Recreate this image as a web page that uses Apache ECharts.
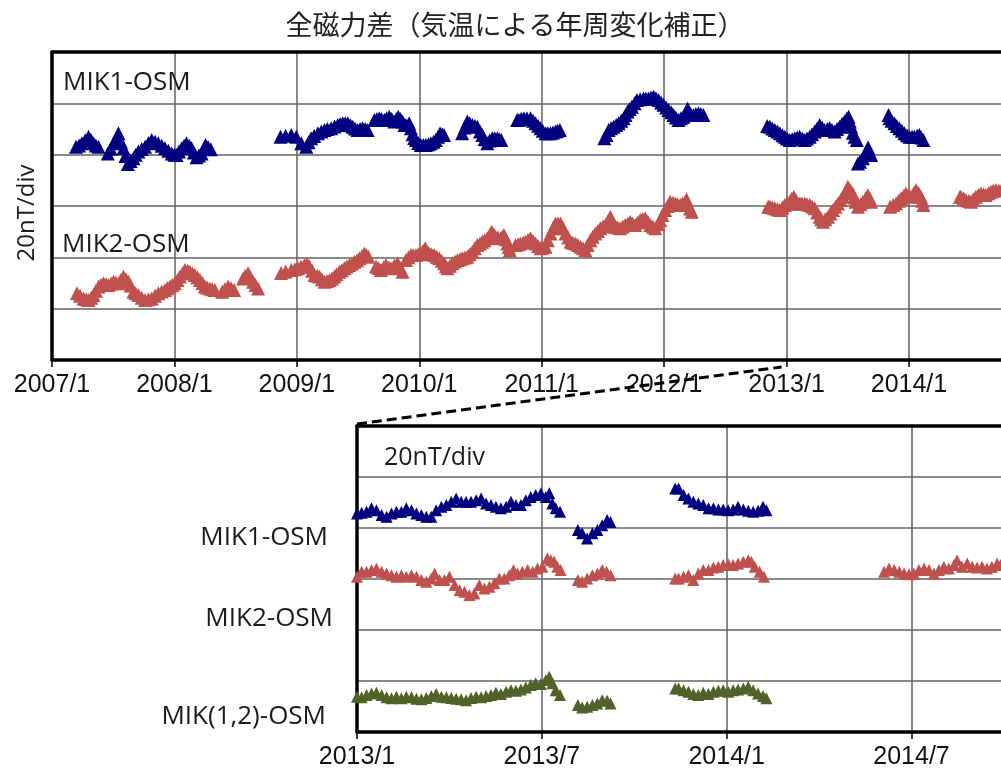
<!DOCTYPE html>
<html>
<head>
<meta charset="utf-8">
<script src="https://cdn.jsdelivr.net/npm/echarts@6/dist/echarts.min.js"></script>
<style>
html,body{margin:0;padding:0;background:#fff;overflow:hidden;}
#chart{width:1014px;height:774px;}
</style>
</head>
<body>
<div id="chart"></div>
<script>
// ---- tick labels ----
const topTicks = ['2007/1','2008/1','2009/1','2010/1','2011/1','2012/1','2013/1','2014/1'];
const bottomTicks = ['2013/1','2013/7','2014/1','2014/7'];

// ---- top panel (x = months since 2007/1, y = nT, 20 nT/div) ----
const mik1Top = [
[2.35,83.1],[2.65,83.6],[2.93,84.4],[3.25,85.6],[3.58,87.0],[3.82,85.8],[4.07,84.4],[4.3,83.6],[4.56,83.1],
[5.47,80.5],[5.75,82.3],[6.03,84.4],[6.3,86.5],[6.51,88.3],[6.75,85.0],[7.0,82.5],[7.2,79.5],[7.43,76.4],[7.7,77.5],[7.98,78.6],[8.2,80.0],[8.47,81.2],[8.8,82.2],[9.12,83.1],[9.45,84.5],[9.77,85.7],[10.1,85.0],[10.42,84.4],[10.75,83.5],[11.07,82.5],[11.4,81.5],[11.73,80.5],[12.0,80.0],[12.21,79.9],[12.45,81.2],[12.7,82.5],[12.95,83.5],[13.19,84.4],[13.45,83.5],[13.68,82.5],[13.9,80.8],[14.17,79.0],[14.4,79.7],[14.66,80.5],[14.85,82.2],[15.05,83.8],[15.3,83.0],[15.57,82.1],
[22.4,87.0],[22.9,87.4],[23.45,87.7],[23.94,87.0],[24.43,84.4],[24.92,83.1],[25.15,84.8],[25.4,86.4],[25.7,87.3],[26.06,88.3],[26.4,89.0],[26.71,89.6],[27.0,90.0],[27.36,90.3],[27.7,91.0],[28.01,91.6],[28.25,91.9],[28.5,92.2],[28.75,92.2],[28.99,92.2],[29.25,91.5],[29.48,90.9],[29.7,90.2],[29.96,89.6],[30.2,90.0],[30.45,90.3],[30.7,90.0],[30.94,89.6],
[31.59,93.5],[31.85,93.9],[32.08,94.2],[32.3,93.9],[32.57,93.5],[32.8,94.2],[33.06,94.8],[33.3,93.9],[33.55,92.9],[33.75,93.9],[33.94,94.8],[34.15,93.9],[34.36,92.9],[34.55,91.6],[34.69,91.6],[35.01,92.2],[35.18,90.3],[35.34,88.0],[35.5,86.5],[35.67,85.7],[35.9,84.5],[36.15,83.8],[36.4,83.8],[36.64,83.8],[36.9,84.1],[37.13,84.4],[37.4,85.0],[37.62,85.7],[37.85,87.0],[38.04,88.3],[38.25,88.0],[38.43,87.7],
[40.2,88.3],[40.45,90.6],[40.71,92.9],[40.95,92.2],[41.2,91.6],[41.45,91.2],[41.69,90.9],[41.95,89.0],[42.18,87.7],[42.4,86.0],[42.67,84.4],[42.9,85.5],[43.16,86.4],[43.4,86.4],[43.65,86.4],[43.85,86.0],[44.04,85.7],
[45.6,93.5],[45.76,93.5],[46.0,94.0],[46.25,94.2],[46.55,94.2],[46.9,94.2],[47.15,93.2],[47.4,92.2],[47.65,91.3],[47.89,90.3],[48.1,89.3],[48.38,88.3],[48.6,88.3],[48.86,88.3],[49.1,88.6],[49.35,89.0],[49.55,89.3],[49.78,89.6],
[54.14,86.4],[54.35,87.7],[54.56,89.6],[54.8,90.3],[55.05,90.9],[55.3,91.6],[55.54,92.2],[55.8,93.2],[56.03,94.2],[56.22,95.5],[56.42,96.8],[56.63,97.8],[56.84,98.7],[57.1,100.0],[57.33,101.3],[57.65,101.6],[57.98,101.9],[58.2,101.9],[58.47,101.9],[58.7,102.3],[58.96,102.6],[59.2,102.0],[59.45,101.3],[59.7,100.3],[59.94,99.4],[60.2,98.4],[60.43,97.4],[60.7,96.5],[60.92,95.5],[61.15,94.5],[61.41,93.5],[61.65,94.2],[61.89,94.8],[62.1,95.5],[62.3,98.0],[62.38,96.1],[62.6,95.8],[62.87,95.5],[63.1,95.8],[63.36,96.1],[63.6,95.8],[63.85,95.5],
[70.1,91.2],[70.36,90.9],[70.6,90.2],[70.85,89.6],[71.1,89.0],[71.34,88.3],[71.6,87.6],[71.83,87.0],[72.05,86.3],[72.31,85.7],[72.55,86.0],[72.8,86.4],[73.05,86.7],[73.29,87.0],[73.55,86.3],[73.78,85.7],[74.0,86.3],[74.27,87.0],[74.5,88.0],[74.76,89.0],[75.0,90.3],[75.25,91.6],[75.5,90.5],[75.73,89.6],[76.0,90.0],[76.22,90.3],[76.45,89.6],[76.71,89.0],[76.95,90.0],[77.2,90.9],[77.45,92.0],[77.69,92.9],[77.9,94.0],[78.08,94.8],[78.2,92.9],[78.34,90.9],[78.5,88.5],[78.67,87.0],[78.89,85.7],
[79.0,76.6],[79.2,77.2],[79.48,78.6],[79.7,80.2],[79.87,81.8],[80.0,82.8],[80.15,81.0],[80.29,79.9],
[82.0,95.5],[82.09,94.2],[82.3,93.2],[82.57,92.2],[82.8,91.2],[83.06,90.3],[83.3,89.3],[83.55,88.3],[83.8,87.6],[84.04,87.0],[84.3,87.0],[84.53,87.0],[84.8,87.4],[85.02,87.7],[85.2,86.7],[85.41,85.7]
];

const mik2Top = [
[2.44,26.0],[2.75,25.0],[3.09,24.0],[3.35,23.7],[3.58,23.4],[3.85,24.3],[4.07,25.3],[4.3,27.0],[4.56,28.6],[4.8,29.3],[5.05,29.9],[5.3,29.5],[5.54,29.2],[5.8,29.8],[6.03,30.5],[6.25,30.2],[6.51,29.9],[6.75,31.2],[7.0,32.5],[7.25,31.5],[7.49,30.5],[7.7,29.0],
[7.98,26.6],[8.2,26.0],[8.47,25.3],[8.8,24.3],[9.12,23.4],[9.45,23.7],[9.77,24.0],[10.1,25.0],[10.42,26.0],[10.75,26.7],[11.07,27.3],[11.3,28.0],[11.56,28.6],[11.8,29.2],[12.05,29.9],[12.3,31.2],[12.54,32.5],[12.8,33.8],[13.03,35.1],[13.3,34.8],[13.52,34.4],[13.75,33.8],[14.0,33.1],[14.25,32.2],[14.5,31.2],[14.75,30.0],[14.98,28.6],[15.2,28.2],[15.47,27.9],[15.7,27.6],[15.96,27.3],
[16.68,26.6],[16.95,27.6],[17.26,28.6],[17.55,28.0],[17.85,27.3],
[18.73,31.8],[18.95,32.8],[19.22,33.8],[19.45,32.2],[19.71,30.5],[19.95,29.2],[20.2,27.9],
[22.45,33.9],[22.9,34.5],[23.45,35.1],[23.8,35.4],[24.1,35.7],[24.4,36.3],[24.75,37.0],[25.0,37.5],[25.24,36.4],[25.5,34.8],[25.73,33.1],[26.0,32.8],[26.22,32.5],[26.45,31.5],[26.71,30.5],[26.95,30.8],[27.2,31.2],[27.45,31.8],[27.68,32.5],[27.9,33.4],[28.17,34.4],[28.4,35.0],[28.66,35.7],[28.9,36.4],[29.15,37.0],[29.4,37.6],[29.64,38.3],[29.9,38.9],[30.13,39.6],[30.4,40.5],[30.62,41.5],[30.8,40.9],[31.01,40.2],
[31.76,36.4],[32.0,35.8],[32.24,35.1],[32.5,36.0],[32.73,37.0],[33.0,36.0],[33.22,35.7],[33.55,36.8],[33.87,37.7],[34.1,36.0],[34.36,34.4],
[34.69,39.0],[34.95,40.0],[35.18,40.9],[35.4,40.9],[35.67,40.9],[35.9,41.2],[36.15,41.5],[36.35,42.5],[36.58,43.5],[36.8,42.2],[36.97,41.5],[37.2,41.2],[37.46,40.9],[37.7,40.2],[37.95,39.6],[38.2,38.7],[38.43,37.7],[38.6,36.5],[38.76,35.7],[39.0,36.7],[39.25,37.7],[39.5,38.4],[39.74,39.0],[40.0,39.3],[40.2,39.6],[40.45,39.9],[40.71,40.2],[40.95,41.2],[41.2,42.2],[41.45,43.5],[41.69,44.8],[41.95,45.4],[42.18,46.1],[42.4,46.7],[42.67,47.4],[42.9,48.7],[43.09,50.0],[43.3,49.0],[43.48,48.0],[43.7,47.7],[43.97,47.4],[44.15,48.0],[44.3,48.7],[44.5,47.0],[44.62,45.4],[44.75,44.0],[44.88,42.8],
[45.44,44.8],[45.7,45.1],[45.93,45.4],[46.2,45.8],[46.41,46.1],[46.65,46.8],[46.9,47.4],[47.15,46.4],[47.4,45.4],[47.65,44.4],[47.89,43.5],[48.1,43.8],[48.38,44.1],[48.6,46.7],[48.86,49.3],[49.1,51.3],[49.35,53.2],[49.6,53.2],[49.84,53.2],[50.1,51.3],[50.33,49.3],[50.6,47.7],[50.82,46.1],[51.05,45.7],[51.31,45.4],[51.55,44.8],[51.8,44.1],[52.05,43.5],[52.28,42.8],[52.5,44.8],[52.77,46.7],[53.0,48.0],[53.26,49.3],[53.5,50.3],[53.75,51.3],[54.0,52.0],[54.24,52.6],[54.5,54.2],[54.73,55.8],[54.95,53.8],[55.22,51.9],[55.45,51.6],[55.7,51.3],[55.95,52.0],[56.19,52.6],[56.45,53.2],[56.68,53.9],[56.9,53.2],[57.17,52.6],[57.4,53.6],[57.66,54.5],[57.9,54.9],[58.15,55.2],[58.4,53.9],[58.64,52.6],[58.9,51.9],[59.13,51.3],[59.4,52.9],[59.62,54.5],[59.85,56.5],[60.1,58.4],[60.35,60.0],[60.59,61.7],[60.85,61.3],[61.08,61.0],[61.3,60.7],[61.58,60.4],[61.8,61.0],[62.06,61.7],[62.2,62.5],[62.38,60.4],[62.55,59.0],[62.71,57.8],
[70.2,59.7],[70.36,59.7],[70.6,59.4],[70.85,59.1],[71.1,58.7],[71.34,58.4],[71.6,59.4],[71.83,60.4],[72.05,61.0],[72.31,61.7],[72.5,62.8],[72.71,63.6],[72.9,62.3],[73.1,61.0],[73.3,61.0],[73.5,61.0],[73.78,61.0],[74.0,60.7],[74.27,60.4],[74.5,59.8],[74.76,59.1],[75.0,57.5],[75.25,55.8],[75.4,54.8],[75.57,53.9],[75.8,54.8],[76.06,55.8],[76.3,57.1],[76.55,58.4],[76.8,59.7],[77.04,61.0],[77.3,62.3],[77.53,63.6],[77.77,65.5],[78.01,67.5],[78.25,66.2],[78.5,64.9],[78.65,63.3],[78.76,61.7],
[79.0,59.7],[79.25,60.7],[79.48,61.7],[79.75,63.0],[79.97,64.3],[80.15,63.0],[80.29,61.7],
[82.15,59.7],[82.45,60.4],[82.74,61.0],[83.0,62.0],[83.23,63.0],[83.5,64.0],[83.71,64.9],[83.95,64.3],[84.2,63.6],[84.45,64.9],[84.69,66.2],[84.95,65.0],[85.18,63.6],[85.3,62.0],[85.41,60.4],
[89.0,63.6],[89.09,63.6],[89.35,63.0],[89.58,62.3],[89.85,62.0],[90.07,61.7],[90.3,62.6],[90.56,63.6],[90.8,64.3],[91.04,64.9],[91.3,64.6],[91.53,64.3],[91.8,65.0],[92.02,65.6],[92.25,65.9],[92.51,66.2],[92.8,66.0],[93.1,66.4],[93.4,66.8]
];

// ---- bottom panel (x = months since 2013/1, y = nT, 20 nT/div) ----
const mik1Bottom = [
[0.0,85.7],[0.15,86.0],[0.31,86.4],[0.47,87.7],[0.63,87.0],[0.8,85.1],[0.96,84.4],[1.12,85.7],[1.28,86.4],[1.44,86.4],[1.6,87.7],[1.77,87.0],[1.93,85.7],[2.09,85.1],[2.25,84.4],[2.41,84.4],[2.57,87.0],[2.74,88.3],[2.9,89.0],[3.06,90.3],[3.22,91.6],[3.38,90.3],[3.54,90.3],[3.7,90.3],[3.87,90.9],[4.03,91.6],[4.19,89.6],[4.35,89.0],[4.51,88.3],[4.67,87.7],[4.84,88.3],[5.0,90.3],[5.16,89.0],[5.32,89.0],[5.48,90.9],[5.64,92.2],[5.8,92.9],[5.97,93.6],[6.13,92.2],[6.24,93.6],[6.34,89.6],[6.45,87.7],[6.59,86.4],
[7.17,79.2],[7.31,77.9],[7.47,75.9],[7.64,77.9],[7.8,79.2],[7.96,81.1],[8.12,83.1],[8.23,82.4],
[10.33,95.5],[10.44,95.5],[10.6,92.9],[10.76,91.6],[10.92,90.3],[11.08,89.6],[11.24,89.0],[11.41,87.7],[11.57,87.7],[11.73,87.3],[11.89,87.3],[12.05,87.0],[12.21,87.3],[12.37,88.3],[12.54,87.3],[12.7,86.8],[12.86,86.4],[13.02,86.8],[13.18,88.3],[13.29,87.0]
];

const mik2Bottom = [
[0.0,60.9],[0.15,62.8],[0.31,62.8],[0.47,63.5],[0.63,64.1],[0.8,62.8],[0.96,62.2],[1.12,61.5],[1.28,60.9],[1.44,61.5],[1.6,60.9],[1.77,61.5],[1.93,60.9],[2.09,59.6],[2.25,58.9],[2.41,60.2],[2.52,62.2],[2.68,59.6],[2.84,59.6],[3.0,60.9],[3.17,57.6],[3.33,55.6],[3.49,55.0],[3.65,53.7],[3.81,54.3],[3.97,57.6],[4.14,56.3],[4.3,57.0],[4.46,58.3],[4.62,60.2],[4.78,60.2],[4.94,61.5],[5.08,63.5],[5.21,62.2],[5.37,62.8],[5.54,63.5],[5.7,62.8],[5.86,64.1],[6.02,64.8],[6.18,68.1],[6.29,67.4],[6.4,66.8],[6.5,64.8],[6.61,63.5],
[7.17,59.6],[7.31,58.9],[7.47,60.2],[7.64,61.5],[7.8,62.2],[7.96,63.5],[8.1,62.8],[8.23,61.5],
[10.33,60.2],[10.44,60.2],[10.6,60.9],[10.76,61.5],[10.92,59.6],[11.08,62.2],[11.24,63.5],[11.41,63.5],[11.57,64.5],[11.73,64.8],[11.89,65.5],[12.05,65.8],[12.21,65.5],[12.37,66.1],[12.54,66.8],[12.7,67.4],[12.8,66.8],[12.91,64.8],[13.07,62.8],[13.21,60.9],
[17.11,62.8],[17.27,64.1],[17.44,63.5],[17.6,62.8],[17.76,62.2],[17.92,61.9],[18.08,62.2],[18.24,63.5],[18.41,64.1],[18.57,63.5],[18.73,62.2],[18.89,63.5],[19.05,64.8],[19.21,64.1],[19.38,65.5],[19.48,67.4],[19.64,64.8],[19.81,66.1],[19.97,64.8],[20.13,64.5],[20.29,64.8],[20.45,64.1],[20.61,64.8],[20.78,66.1],[20.9,65.5],[21.05,66.0]
];

const mik12Bottom = [
[0.0,13.8],[0.15,13.6],[0.31,14.5],[0.47,15.1],[0.63,15.4],[0.8,14.5],[0.96,13.6],[1.12,13.2],[1.28,13.8],[1.44,13.2],[1.6,13.8],[1.77,13.6],[1.93,13.0],[2.09,12.8],[2.25,13.3],[2.41,14.1],[2.57,14.9],[2.74,13.8],[2.9,13.6],[3.06,13.3],[3.22,13.0],[3.38,12.8],[3.54,12.5],[3.7,13.3],[3.87,13.8],[4.03,13.6],[4.19,14.1],[4.35,14.5],[4.51,15.4],[4.67,14.9],[4.84,15.8],[5.0,16.4],[5.16,16.2],[5.32,16.7],[5.48,17.5],[5.64,18.4],[5.8,19.1],[5.97,18.8],[6.13,20.4],[6.24,21.7],[6.34,19.1],[6.45,16.4],[6.59,14.5],
[7.17,10.6],[7.31,9.6],[7.47,9.9],[7.64,10.6],[7.8,11.2],[7.96,12.5],[8.12,12.3],[8.23,11.2],
[10.33,17.1],[10.44,17.1],[10.6,16.4],[10.76,15.8],[10.92,14.9],[11.08,14.5],[11.24,15.4],[11.41,14.9],[11.57,15.8],[11.73,16.2],[11.89,16.4],[12.05,15.8],[12.21,16.4],[12.37,16.7],[12.54,17.1],[12.7,17.7],[12.86,16.4],[13.02,15.1],[13.18,14.1],[13.29,13.2]
];

// ---- chart ----
// The chart canvas is a little wider than the 1001px window: the reference is cropped at the right,
// so the panels' right borders fall just outside the picture.
const chart = echarts.init(document.getElementById('chart'), null, {renderer: 'canvas'});
const LBL_FONT = '"Open Sans", sans-serif';
const TXT = '#1b1b1b';
const TOP_MAX = 94.0;     // months since 2007/1 at the panel's (hidden) right edge
const BOTTOM_MAX = 21.23; // months since 2013/1 at the panel's (hidden) right edge

function xAxisCfg(gridIndex, max, interval, labels) {
  return {
    type: 'value', gridIndex, min: 0, max, interval, position: 'bottom',
    axisLine: {show: true, onZero: false, lineStyle: {color: '#000', width: 3.5}},
    axisTick: {show: true, length: 7, lineStyle: {color: '#000', width: 1.5}},
    axisLabel: {
      show: true, margin: 13, fontSize: 25, fontFamily: '"Liberation Sans", Arial, sans-serif', color: '#111',
      formatter: v => (Math.abs(v % interval) < 1e-9 && labels[Math.round(v / interval)] !== undefined) ? labels[Math.round(v / interval)] : ''
    },
    splitLine: {show: true, lineStyle: {color: '#606060', width: 1.5}}
  };
}
function topEdgeAxis(gridIndex, max) {
  return {
    type: 'value', gridIndex, min: 0, max, position: 'top',
    axisLine: {show: true, onZero: false, lineStyle: {color: '#000', width: 3.5}},
    axisTick: {show: false}, axisLabel: {show: false}, splitLine: {show: false}
  };
}
function yAxisCfg(gridIndex) {
  return {
    type: 'value', gridIndex, min: 0, max: 120, interval: 20,
    axisLine: {show: true, lineStyle: {color: '#000', width: 3.5}},
    axisTick: {show: false},
    axisLabel: {show: false},
    splitLine: {show: true, lineStyle: {color: '#8a8a8a', width: 2}}
  };
}
function sc(name, data, xi, color, size) {
  return {
    name, type: 'scatter', xAxisIndex: xi, yAxisIndex: xi, data,
    symbol: 'triangle', symbolSize: size,
    itemStyle: {color: color, opacity: 1},
    silent: true, animation: false
  };
}

const option = {
  animation: false,
  backgroundColor: '#fff',
  grid: [
    {left: 52, right: 0, top: 52, bottom: 414},
    {left: 357, right: 0, top: 426, bottom: 42}
  ],
  xAxis: [xAxisCfg(0, TOP_MAX, 12, topTicks), xAxisCfg(1, BOTTOM_MAX, 6, bottomTicks), topEdgeAxis(0, TOP_MAX), topEdgeAxis(1, BOTTOM_MAX)],
  yAxis: [yAxisCfg(0), yAxisCfg(1)],
  series: [
    sc('MIK1-OSM', mik1Top, 0, '#000080', 14),
    sc('MIK2-OSM', mik2Top, 0, '#c0504d', 14),
    sc('MIK1-OSM (2013-)', mik1Bottom, 1, '#000080', 12),
    sc('MIK2-OSM (2013-)', mik2Bottom, 1, '#c0504d', 12),
    sc('MIK(1,2)-OSM', mik12Bottom, 1, '#4f6228', 12)
  ],
  graphic: [
    {type: 'text', x: 515, y: 25, z: 10, style: {text: '全磁力差（気温による年周変化補正）', align: 'center', verticalAlign: 'middle', font: '27px "Noto Sans CJK JP"', fill: '#222'}},
    {type: 'text', x: 27, y: 213, rotation: Math.PI / 2, z: 10, style: {text: '20nT/div', align: 'center', verticalAlign: 'middle', font: '24px ' + LBL_FONT, fill: TXT}},
    {type: 'text', x: 63, y: 83, z: 10, style: {text: 'MIK1-OSM', align: 'left', verticalAlign: 'middle', font: '26px ' + LBL_FONT, fill: TXT}},
    {type: 'text', x: 62, y: 245, z: 10, style: {text: 'MIK2-OSM', align: 'left', verticalAlign: 'middle', font: '26px ' + LBL_FONT, fill: TXT}},
    {type: 'text', x: 384, y: 458, z: 10, style: {text: '20nT/div', align: 'left', verticalAlign: 'middle', font: '25px ' + LBL_FONT, fill: TXT}},
    {type: 'text', x: 328, y: 538, z: 10, style: {text: 'MIK1-OSM', align: 'right', verticalAlign: 'middle', font: '26px ' + LBL_FONT, fill: TXT}},
    {type: 'text', x: 333, y: 619, z: 10, style: {text: 'MIK2-OSM', align: 'right', verticalAlign: 'middle', font: '26px ' + LBL_FONT, fill: TXT}},
    {type: 'text', x: 326, y: 717, z: 10, style: {text: 'MIK(1,2)-OSM', align: 'right', verticalAlign: 'middle', font: '26px ' + LBL_FONT, fill: TXT}}
  ]
};
chart.setOption(option);

// dashed connector from the zoom panel's top-left corner up to 2013/1 on the long panel
const pBottom = chart.convertToPixel({xAxisIndex: 1, yAxisIndex: 1}, [0, 120]);
const pTop = chart.convertToPixel({xAxisIndex: 0, yAxisIndex: 0}, [72, 0]);
chart.setOption({
  graphic: option.graphic.concat([{
    type: 'line', z: 5,
    shape: {x1: pBottom[0], y1: pBottom[1] - 2, x2: pTop[0] - 5, y2: pTop[1] + 7},
    style: {stroke: '#000', lineWidth: 3, lineDash: [10, 5]}
  }])
});
</script>
</body>
</html>
